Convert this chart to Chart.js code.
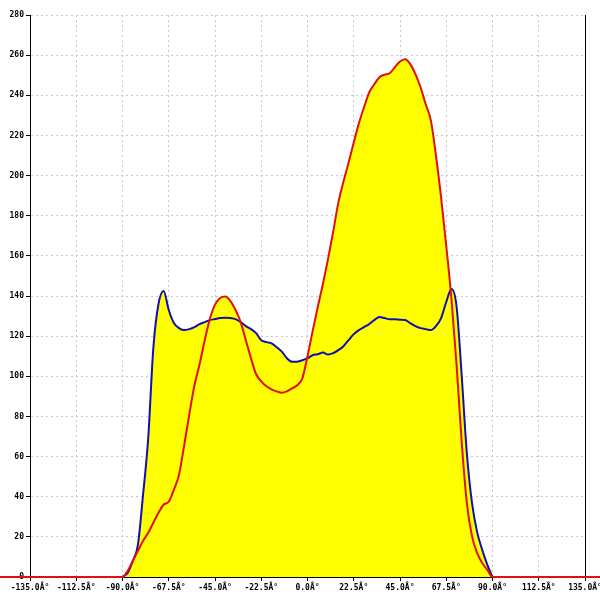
<!DOCTYPE html>
<html>
<head>
<meta charset="utf-8">
<script src="https://cdn.jsdelivr.net/npm/chart.js@4.4.1/dist/chart.umd.min.js"></script>
<style>
  body { margin: 0; background: #fff; }
</style>
</head>
<body>
<canvas id="chart" width="600" height="600"></canvas>
<script>
// angles in degrees
const angles = [
  -90, -87.5, -85, -82.5, -80, -77.5, -75, -72.5, -70, -67.5,
  -65, -62.5, -60, -57.5, -55, -52.5, -50, -47.5, -45, -42.5,
  -40, -37.5, -35, -32.5, -30, -27.5, -25, -22.5, -20, -17.5,
  -15, -12.5, -10, -7.5, -5, -2.5, 0, 2.5, 5, 7.5,
  10, 12.5, 15, 17.5, 20, 22.5, 25, 27.5, 30, 32.5,
  35, 37.5, 40, 42.5, 45, 47.5, 50, 52.5, 55, 57.5,
  60, 62.5, 65, 67.5, 70, 72.5, 75, 77.5, 80, 82.5,
  85, 87.5, 90
];

const blueValues = [
  0, 2, 8, 16, 41, 69, 114, 136, 142.5, 133,
  126.5, 124, 123, 123.5, 124.5, 126, 127, 128, 128.5, 129,
  129.2, 129, 128.5, 127, 125, 123.5, 121.5, 118, 117, 116.4,
  114.5, 112.3, 109, 107.2, 107.3, 108, 109, 110.5, 111, 111.8,
  110.8, 111.5, 113, 115, 118, 121, 123, 124.5, 126, 128,
  129.5, 129, 128.4, 128.4, 128.2, 128, 126.5, 125, 124, 123.5,
  123, 125, 129, 137, 143.5, 135, 100.5, 62, 37, 22.5,
  13.5, 6, 0
];

const redValues = [
  0, 3, 8, 13, 18, 22, 27, 32, 36, 37.5,
  43.5, 51, 65.5, 81, 95.5, 106, 118, 128.5, 135.7, 139,
  139.7, 137.5, 133, 127, 118, 109, 101, 97.5, 95, 93.5,
  92.5, 91.8, 92.5, 94, 95.5, 99, 110, 122.5, 134.5, 146,
  158.5, 172, 186.5, 197, 206.5, 216.5, 226, 234, 241.4, 245.5,
  249, 250.3, 251, 254, 256.8, 258, 255.5, 250.5, 244, 235.5,
  227.5, 210, 189, 165, 139, 106, 67.5, 37, 20.5, 12,
  7, 3.5, 0
];

// red baseline keeps running past both ends of the plot
const baselineAngles = [-180, 180];

const xTickLabels = [
  '-135.0Â°', '-112.5Â°', '-90.0Â°', '-67.5Â°', '-45.0Â°', '-22.5Â°', '0.0Â°',
  '22.5Â°', '45.0Â°', '67.5Â°', '90.0Â°', '112.5Â°', '135.0Â°'
];
const xTickValues = [-135, -112.5, -90, -67.5, -45, -22.5, 0, 22.5, 45, 67.5, 90, 112.5, 135];

const toPoints = (xs, ys) => xs.map((x, i) => ({ x: x, y: ys[i] }));

const redPoints = [{ x: baselineAngles[0], y: 0 }]
  .concat(toPoints(angles, redValues))
  .concat([{ x: baselineAngles[1], y: 0 }]);

const tickFont = { family: 'DejaVu Sans Mono', size: 8, weight: 'bold' };

new Chart(document.getElementById('chart').getContext('2d'), {
  type: 'line',
  data: {
    datasets: [
      {
        label: 'red',
        data: redPoints,
        borderColor: '#e01010',
        backgroundColor: '#ffff00',
        borderWidth: 2,
        fill: 'origin',
        pointRadius: 0,
        cubicInterpolationMode: 'monotone',
        clip: false,
      },
      {
        label: 'blue',
        data: toPoints(angles, blueValues),
        borderColor: '#1010b0',
        backgroundColor: '#ffff00',
        borderWidth: 2,
        fill: 'origin',
        pointRadius: 0,
        cubicInterpolationMode: 'monotone',
      },
    ],
  },
  options: {
    responsive: false,
    animation: false,
    layout: { padding: { top: 15, right: 15, left: 0, bottom: 0 } },
    plugins: {
      legend: { display: false },
      tooltip: { enabled: false },
      filler: { drawTime: 'beforeDatasetsDraw' },
    },
    scales: {
      x: {
        type: 'linear',
        min: -135,
        max: 135,
        afterBuildTicks: (scale) => {
          scale.ticks = xTickValues.map(v => ({ value: v }));
        },
        afterFit: (scale) => {
          scale.height = 23;
          scale.paddingLeft = 0;
          scale.paddingRight = 0;
        },
        grid: {
          color: '#c8c8c8',
          tickColor: '#000',
          tickLength: 4,
        },
        border: { display: true, color: '#000', width: 1, dash: [2, 3] },
        ticks: {
          color: '#000',
          font: tickFont,
          padding: 2,
          maxRotation: 0,
          autoSkip: false,
          callback: (value) => xTickLabels[xTickValues.indexOf(value)],
        },
      },
      y: {
        min: 0,
        max: 280,
        afterFit: (scale) => {
          scale.width = 30;
          scale.paddingTop = 0;
          scale.paddingBottom = 0;
        },
        grid: {
          color: '#c8c8c8',
          tickColor: '#000',
          tickLength: 4,
        },
        border: { display: true, color: '#000', width: 1, dash: [2, 3] },
        ticks: {
          stepSize: 20,
          color: '#000',
          font: tickFont,
          padding: 2,
        },
      },
      y2: {
        position: 'right',
        min: 0,
        max: 280,
        afterFit: (scale) => { scale.width = 0; },
        grid: { display: false, drawOnChartArea: false },
        border: { display: true, color: '#000', width: 1 },
        ticks: { display: false },
      },
    },
  },
});
</script>
</body>
</html>
